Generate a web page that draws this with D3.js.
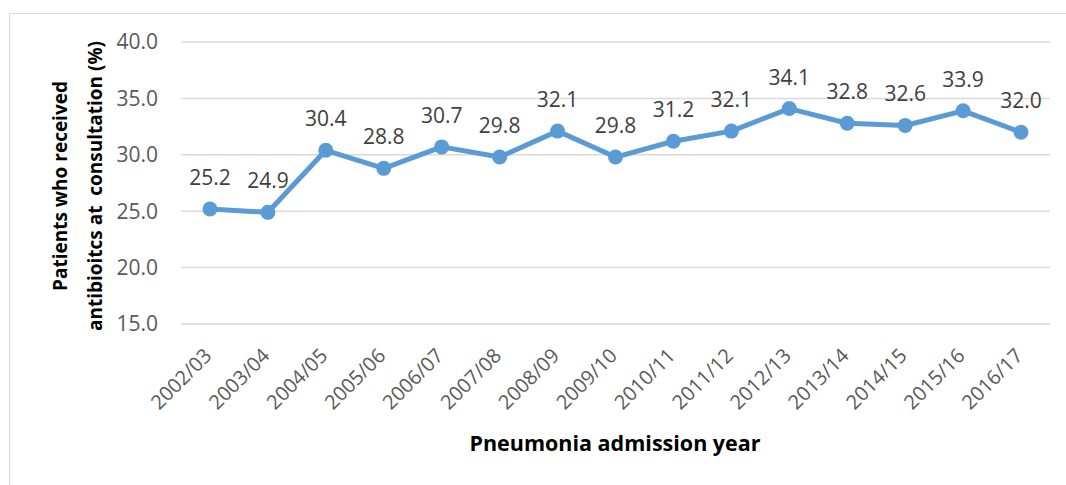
<!DOCTYPE html>
<html>
<head>
  <style>
    body { margin: 0; background: #fff; }
  </style>
</head>
<body>
  <svg id="main" width="1066" height="485"></svg>
  <script src="https://cdn.jsdelivr.net/npm/d3@7/dist/d3.min.js"></script>
  <script>
    const years = ['2002/03', '2003/04', '2004/05', '2005/06', '2006/07', '2007/08', '2008/09', '2009/10',
      '2010/11', '2011/12', '2012/13', '2013/14', '2014/15', '2015/16', '2016/17']
    const values = [25.2, 24.9, 30.4, 28.8, 30.7, 29.8, 32.1, 29.8, 31.2, 32.1, 34.1, 32.8, 32.6, 33.9, 32.0]
    const yTicks = [15, 20, 25, 30, 35, 40]

    const svg = d3.select('#main')
    const font = "'Open Sans', sans-serif"
    const margin = { top: 42, right: 16, bottom: 161, left: 181 }
    const width = 1066, height = 485
    const innerWidth = width - margin.left - margin.right
    const innerHeight = height - margin.top - margin.bottom

    // outer chart border
    svg.append('rect')
      .attr('x', 9.5).attr('y', 13.5)
      .attr('width', 1070).attr('height', 500)
      .attr('fill', 'none').attr('stroke', '#d9d9d9').attr('stroke-width', 1)

    const chart = svg.append('g')
      .attr('transform', `translate(${margin.left},${margin.top})`)

    const x = d3.scalePoint().domain(years).range([0, innerWidth]).padding(0.5)
    const y = d3.scaleLinear().domain([15, 40]).range([innerHeight, 0])

    // gridlines
    chart.append('g').selectAll('line')
      .data(yTicks)
      .join('line')
      .attr('x1', 0).attr('x2', innerWidth)
      .attr('y1', d => y(d)).attr('y2', d => y(d))
      .attr('stroke', '#d9d9d9').attr('stroke-width', 1.5)

    // y tick labels
    chart.append('g').selectAll('text')
      .data(yTicks)
      .join('text')
      .attr('x', -23).attr('y', d => y(d))
      .attr('dy', '0.35em')
      .attr('text-anchor', 'end')
      .attr('font-family', font).attr('font-size', 21)
      .attr('fill', '#595959')
      .text(d => d.toFixed(1))

    // x tick labels
    chart.append('g').selectAll('text')
      .data(years)
      .join('text')
      .attr('transform', d => `translate(${x(d) - 2},${innerHeight + 28}) rotate(-45)`)
      .attr('text-anchor', 'end')
      .attr('dy', '0.35em')
      .attr('font-family', font).attr('font-size', 20)
      .attr('fill', '#595959')
      .text(d => d)

    const pts = years.map((d, i) => ({ year: d, value: values[i] }))

    const line = d3.line().x(d => x(d.year)).y(d => y(d.value))

    chart.append('path')
      .datum(pts)
      .attr('d', line)
      .attr('fill', 'none')
      .attr('stroke', '#5b9bd5')
      .attr('stroke-width', 5)
      .attr('stroke-linejoin', 'round')

    chart.append('g').selectAll('circle')
      .data(pts)
      .join('circle')
      .attr('cx', d => x(d.year)).attr('cy', d => y(d.value))
      .attr('r', 7.5)
      .attr('fill', '#5b9bd5')

    // data labels
    chart.append('g').selectAll('text')
      .data(pts)
      .join('text')
      .attr('x', d => x(d.year)).attr('y', d => y(d.value) - 24)
      .attr('text-anchor', 'middle')
      .attr('font-family', font).attr('font-size', 21)
      .attr('fill', '#404040')
      .text(d => d.value.toFixed(1))

    // axis titles
    svg.append('text')
      .attr('x', 615).attr('y', 451)
      .attr('text-anchor', 'middle')
      .attr('font-family', font).attr('font-size', 21.5).attr('font-weight', 'bold')
      .attr('fill', '#000')
      .text('Pneumonia admission year')

    const yTitle = svg.append('text')
      .attr('transform', 'translate(78,186) rotate(-90)')
      .attr('text-anchor', 'middle')
      .attr('font-family', font).attr('font-size', 19).attr('font-weight', 'bold')
      .attr('fill', '#000')
    yTitle.append('tspan').attr('x', 0).attr('y', -11).text('Patients who received')
    yTitle.append('tspan').attr('x', 0).attr('y', 24).attr('xml:space', 'preserve').text('antibioitcs at  consultation (%)')
  </script>
</body>
</html>
